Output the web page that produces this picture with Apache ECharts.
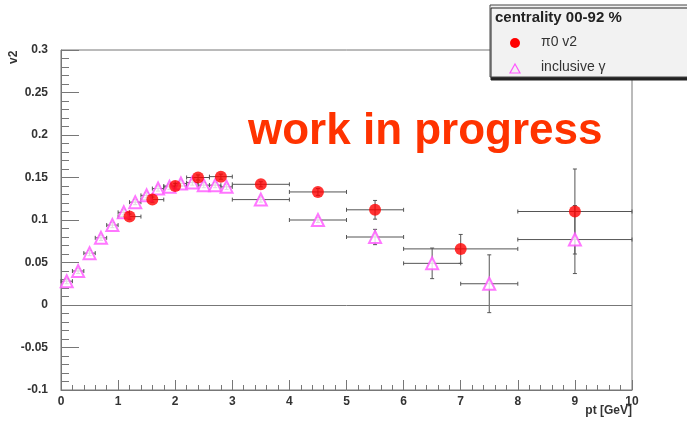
<!DOCTYPE html>
<html><head><meta charset="utf-8">
<script src="https://cdn.jsdelivr.net/npm/echarts@6/dist/echarts.min.js"></script>
<style>html,body{margin:0;padding:0;background:#fff}#c{width:687px;height:426px}</style>
</head><body><div id="c"></div>
<script>
// pi0 v2
const pi0X    = [1.2, 1.6, 2.0, 2.4, 2.8, 3.5, 4.5, 5.5, 7.0, 9.0];
const pi0Y    = [0.104, 0.124, 0.140, 0.150, 0.151, 0.142, 0.133, 0.112, 0.066, 0.110];
const pi0XErr = [0.2, 0.2, 0.2, 0.2, 0.2, 0.5, 0.5, 0.5, 1.0, 1.0];
const pi0YErr = [0.003, 0.003, 0.003, 0.003, 0.003, 0.003, 0.004, 0.011, 0.017, 0.050];
// inclusive gamma v2
const gamX    = [0.1, 0.3, 0.5, 0.7, 0.9, 1.1, 1.3, 1.5, 1.7, 1.9, 2.1, 2.3, 2.5, 2.7, 2.9, 3.5, 4.5, 5.5, 6.5, 7.5, 9.0];
const gamY    = [0.028, 0.040, 0.061, 0.079, 0.094, 0.109, 0.121, 0.129, 0.137, 0.139, 0.143, 0.144, 0.141, 0.141, 0.139, 0.124, 0.100, 0.080, 0.049, 0.025, 0.077];
const gamXErr = [0.1, 0.1, 0.1, 0.1, 0.1, 0.1, 0.1, 0.1, 0.1, 0.1, 0.1, 0.1, 0.1, 0.1, 0.1, 0.5, 0.5, 0.5, 0.5, 0.5, 1.0];
const gamYErr = [0.003, 0.003, 0.003, 0.003, 0.003, 0.003, 0.003, 0.003, 0.003, 0.003, 0.003, 0.003, 0.003, 0.003, 0.003, 0.003, 0.003, 0.009, 0.018, 0.034, 0.040];
const xTicks = [0, 10, 1];
const yTicks = [-0.1, 0.3, 0.05];

const chart = echarts.init(document.getElementById('c'), null, {renderer: 'canvas'});
const FONT = 'Liberation Sans, Arial, sans-serif';
const ERR = '#555';

function errData(xs, ys, xe, ye) {
  return xs.map((x, i) => [x, ys[i], xe[i], ye[i]]);
}
function errRender(params, api) {
  const x = api.value(0), y = api.value(1), ex = api.value(2), ey = api.value(3);
  const c = api.coord([x, y]);
  const l = api.coord([x - ex, y]), r = api.coord([x + ex, y]);
  const t = api.coord([x, y + ey]), b = api.coord([x, y - ey]);
  const s = {stroke: ERR, lineWidth: 1};
  const h = 2;
  const children = [
    {type: 'line', shape: {x1: l[0], y1: c[1], x2: r[0], y2: c[1]}, style: s},
    {type: 'line', shape: {x1: l[0], y1: c[1] - h, x2: l[0], y2: c[1] + h}, style: s},
    {type: 'line', shape: {x1: r[0], y1: c[1] - h, x2: r[0], y2: c[1] + h}, style: s},
    {type: 'line', shape: {x1: c[0], y1: t[1], x2: c[0], y2: b[1]}, style: s},
    {type: 'line', shape: {x1: c[0] - h, y1: t[1], x2: c[0] + h, y2: t[1]}, style: s},
    {type: 'line', shape: {x1: c[0] - h, y1: b[1], x2: c[0] + h, y2: b[1]}, style: s}
  ];
  return {type: 'group', children};
}

const axisLabel = {color: '#333', fontFamily: FONT, fontWeight: 'bold', fontSize: 12};

chart.setOption({
  animation: false,
  backgroundColor: '#fff',
  grid: {left: 61, right: 55, top: 50, bottom: 36, show: true, borderColor: '#777', borderWidth: 1},
  xAxis: {
    type: 'value', min: xTicks[0], max: xTicks[1], interval: xTicks[2],
    axisLine: {onZero: false, lineStyle: {color: '#777'}},
    axisTick: {inside: true, length: 10, lineStyle: {color: '#777'}},
    minorTick: {show: true, splitNumber: 5, length: 5, lineStyle: {color: '#777'}},
    splitLine: {show: false},
    axisLabel: Object.assign({margin: 6}, axisLabel)
  },
  yAxis: {
    type: 'value', min: yTicks[0], max: yTicks[1], interval: yTicks[2],
    axisLine: {onZero: false, lineStyle: {color: '#777'}},
    axisTick: {inside: true, length: 18, lineStyle: {color: '#777'}},
    minorTick: {show: true, splitNumber: 5, length: 8, lineStyle: {color: '#777'}},
    splitLine: {show: false},
    axisLabel: Object.assign({margin: 13}, axisLabel)
  },
  series: [
    {
      type: 'custom', renderItem: errRender, data: errData(gamX, gamY, gamXErr, gamYErr),
      encode: {x: 0, y: 1}, z: 2, silent: true,
      markLine: {silent: true, symbol: 'none', label: {show: false},
        lineStyle: {color: '#777', width: 1, type: 'solid'}, data: [{yAxis: 0}]}
    },
    {
      type: 'custom', renderItem: errRender, data: errData(pi0X, pi0Y, pi0XErr, pi0YErr),
      encode: {x: 0, y: 1}, z: 2, silent: true
    },
    {
      name: 'inclusive γ', type: 'scatter', symbol: 'emptyTriangle', symbolSize: 12,
      data: gamX.map((x, i) => [x, gamY[i]]), z: 3,
      itemStyle: {color: '#ff55ff', borderColor: '#ff55ff', borderWidth: 1.5}
    },
    {
      name: 'π0 v2', type: 'scatter', symbol: 'circle', symbolSize: 12,
      data: pi0X.map((x, i) => [x, pi0Y[i]]), z: 4,
      itemStyle: {color: '#ff0000'}
    }
  ],
  graphic: [
    {type: 'text', left: 248, top: 110, style: {text: 'work in progress', fill: '#ff3300',
      font: 'bold 44px ' + FONT}},
    {type: 'text', x: 8, y: 64, rotation: Math.PI / 2, style: {text: 'v2', fill: '#333',
      font: 'bold 12px ' + FONT}},
    {type: 'text', right: 55, top: 405, style: {text: 'pt [GeV]', fill: '#333',
      font: 'bold 12px ' + FONT}},
    {type: 'group', x: 490, y: 5, z: 100, children: [
      {type: 'rect', shape: {x: 0, y: 0, width: 200, height: 72},
        style: {fill: '#f2f2f2', stroke: '#444', lineWidth: 1,
          shadowColor: '#222', shadowOffsetX: 1, shadowOffsetY: 3, shadowBlur: 0}},
      {type: 'text', x: 5, y: 5, style: {text: 'centrality 00-92 %', fill: '#222',
        font: 'bold 15px ' + FONT}},
      {type: 'circle', shape: {cx: 25, cy: 38, r: 5}, style: {fill: '#ff0000'}},
      {type: 'text', x: 51, y: 30, style: {text: 'π0 v2', fill: '#333', font: '14px ' + FONT}},
      {type: 'polygon', shape: {points: [[25, 59], [30, 68], [20, 68]]},
        style: {fill: 'none', stroke: '#ff55ff', lineWidth: 1.2}},
      {type: 'text', x: 51, y: 55, style: {text: 'inclusive γ', fill: '#333', font: '14px ' + FONT}}
    ]}
  ]
});
</script></body></html>
